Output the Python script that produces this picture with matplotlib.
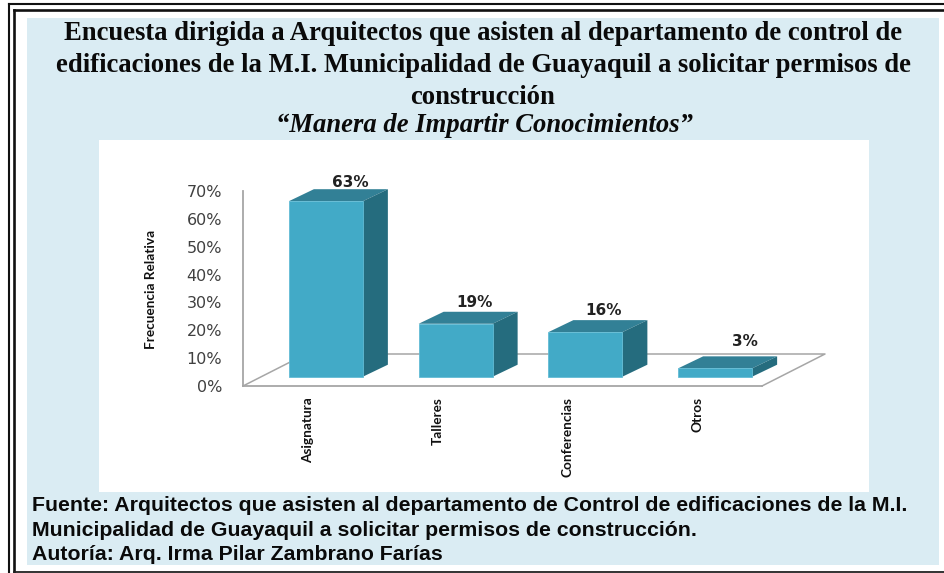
from matplotlib import pyplot as plt
from matplotlib.patches import Polygon, Rectangle

categories = ['Asignatura', 'Talleres', 'Conferencias', 'Otros']
values = [63, 19, 16, 3]
value_labels = ['63%', '19%', '16%', '3%']
y_ticks = [0, 10, 20, 30, 40, 50, 60, 70]
y_tick_labels = ['0%', '10%', '20%', '30%', '40%', '50%', '60%', '70%']

title_lines = [
    'Encuesta dirigida a Arquitectos que asisten al departamento de control de',
    'edificaciones de la M.I. Municipalidad de Guayaquil a solicitar permisos de',
    'construcción',
]
subtitle = '“Manera de Impartir Conocimientos”'
footer_lines = [
    'Fuente: Arquitectos que asisten al departamento de Control de edificaciones de la M.I.',
    'Municipalidad de Guayaquil a solicitar permisos de construcción.',
    'Autoría: Arq. Irma Pilar Zambrano Farías',
]

W, H = 945, 573
FRONT = '#42AAC7'
TOP = '#328096'
SIDE = '#256C7E'
PANEL = '#DAECF3'
AXIS = '#A6A6A6'

fig = plt.figure(figsize=(W / 100, H / 100), dpi=100, facecolor='white')

# page decoration, in pixels
bg = fig.add_axes([0, 0, 1, 1])
bg.set_xlim(0, W)
bg.set_ylim(H, 0)
bg.axis('off')
bg.add_patch(Rectangle((27, 18), 912, 547, color=PANEL, lw=0))
bg.add_patch(Rectangle((99, 140), 770, 352, color='white', lw=0))
bg.plot([8.5, 8.5], [3.5, H], color='#111111', lw=1.5)
bg.plot([14, 14], [10, H], color='#111111', lw=1.9)
bg.plot([8.5, W], [4, 4], color='#111111', lw=1.5)
bg.plot([14, W], [10, 10], color='#111111', lw=1.9)
bg.plot([14, W], [571.8, 571.8], color='#222222', lw=1.3)

for i, line in enumerate(title_lines):
    bg.text(483, 33 + i * 32, line, family='Liberation Serif', weight='bold',
            fontsize=19.2, ha='center', va='center', color='#0a0a0a')
bg.text(484, 125, subtitle, family='Liberation Serif', weight='bold', style='italic',
        fontsize=19.2, ha='center', va='center', color='#0a0a0a')
for i, line in enumerate(footer_lines):
    bg.text(32, 505.5 + i * 24.5, line, family='Liberation Sans', weight='bold',
            fontsize=15.3, ha='left', va='center', color='#0a0a0a')

# chart
left, right, top, bottom = 243, 762, 191, 386
ax = fig.add_axes([left / W, 1 - bottom / H, (right - left) / W, (bottom - top) / H])
ax.patch.set_alpha(0)
ax.set_xlim(-0.5, 3.5)
ax.set_ylim(0, 70)
px_x = (right - left) / 4
px_y = (bottom - top) / 70

for side in ['top', 'right']:
    ax.spines[side].set_visible(False)
for side in ['left', 'bottom']:
    ax.spines[side].set_color(AXIS)
    ax.spines[side].set_linewidth(1.3)

# floor of the 3d box
floor_dx = 63 / px_x
floor_dy = 32 / px_y
ax.plot([-0.5, -0.5 + floor_dx, 3.5 + floor_dx, 3.5],
        [0, floor_dy, floor_dy, 0], color=AXIS, lw=1.1, clip_on=False, zorder=1)

shift_x = 18 / px_x
shift_y = 9.3 / px_y
depth_x = 25 / px_x
depth_y = 12 / px_y
bar_w = 74 / px_x

x_pos = list(range(len(categories)))
ax.bar([x + shift_x for x in x_pos], values, width=bar_w, bottom=shift_y,
       color=FRONT, edgecolor='#62BCD5', linewidth=0.6, clip_on=False, zorder=3)

for x, v in zip(x_pos, values):
    x0 = x + shift_x - bar_w / 2
    x1 = x + shift_x + bar_w / 2
    y0 = shift_y
    y1 = shift_y + v
    ax.add_patch(Polygon([(x0, y1), (x1, y1), (x1 + depth_x, y1 + depth_y), (x0 + depth_x, y1 + depth_y)],
                         color=TOP, lw=0, clip_on=False, zorder=2))
    ax.add_patch(Polygon([(x1, y0), (x1 + depth_x, y0 + depth_y), (x1 + depth_x, y1 + depth_y), (x1, y1)],
                         color=SIDE, lw=0, clip_on=False, zorder=2))

label_dx = [24, 19, 18, 30]
label_dy = [19, 21, 22, 27]
for x, v, text, dx, dy in zip(x_pos, values, value_labels, label_dx, label_dy):
    ax.annotate(text, (x + shift_x, shift_y + v), xytext=(dx * 0.72, dy * 0.72),
                textcoords='offset points', ha='center', va='center',
                fontsize=11, weight='bold', color='#222222', annotation_clip=False, zorder=4)

ax.set_yticks(y_ticks)
ax.set_yticklabels(y_tick_labels, fontsize=11.5, color='#404040')
ax.tick_params(axis='y', length=0, pad=15)
ax.set_xticks(x_pos)
ax.set_xticklabels(categories, rotation=90, family='Lato', fontsize=9.8, weight='bold', color='#111111')
ax.tick_params(axis='x', length=0, pad=8)
ax.set_ylabel('Frecuencia Relativa', family='Lato', fontsize=9.8, weight='bold', color='#111111')
ax.yaxis.set_label_coords((157 - left) / (right - left), (bottom - 289) / (bottom - top))

plt.savefig('out.png', dpi=100)
